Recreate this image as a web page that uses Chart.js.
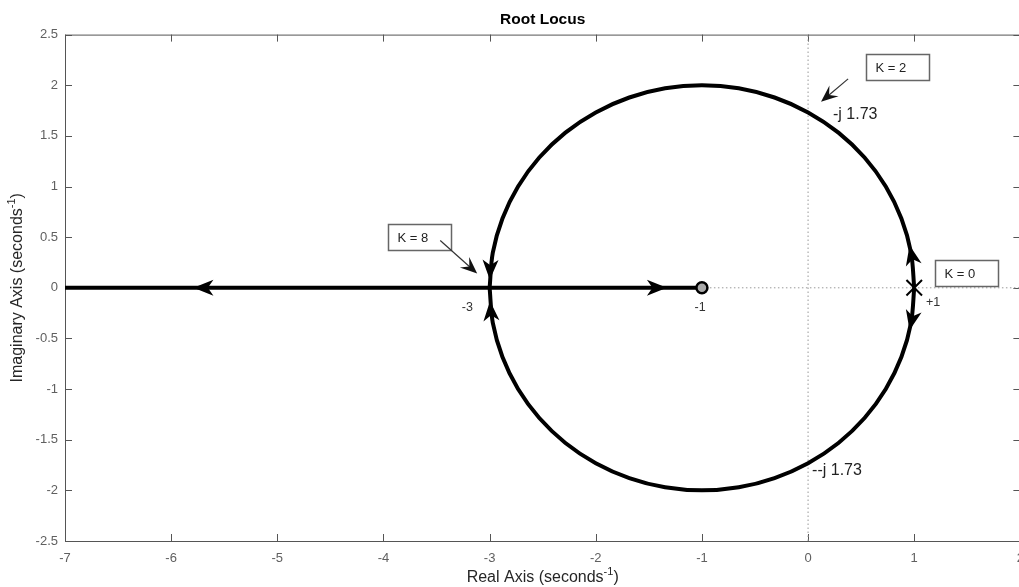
<!DOCTYPE html>
<html>
<head>
<meta charset="utf-8">
<title>Root Locus</title>
<script src="https://cdn.jsdelivr.net/npm/chart.js@4.4.1/dist/chart.umd.min.js"></script>
<style>
  html, body { margin: 0; padding: 0; background: #fff; overflow: hidden; }
  #wrap { width: 1034px; height: 587px; }
</style>
</head>
<body>
<div id="wrap"><canvas id="rlocus"></canvas></div>
<script>
// locus branches (real part, imaginary part)
const upperRe = [1.000, 0.970, 0.879, 0.732, 0.532, 0.286, 0.000, -0.316, -0.653, -1.000, -1.347, -1.684, -2.000, -2.286, -2.532, -2.732, -2.879, -2.970, -3.000];
const upperIm = [0.000, 0.347, 0.684, 1.000, 1.286, 1.532, 1.732, 1.879, 1.970, 2.000, 1.970, 1.879, 1.732, 1.532, 1.286, 1.000, 0.684, 0.347, 0.000];
const lowerRe = [1.000, 0.970, 0.879, 0.732, 0.532, 0.286, 0.000, -0.316, -0.653, -1.000, -1.347, -1.684, -2.000, -2.286, -2.532, -2.732, -2.879, -2.970, -3.000];
const lowerIm = [0.000, -0.347, -0.684, -1.000, -1.286, -1.532, -1.732, -1.879, -1.970, -2.000, -1.970, -1.879, -1.732, -1.532, -1.286, -1.000, -0.684, -0.347, 0.000];
const realRe = [-7, -1];
const realIm = [0, 0];

// pole and zero
const poleRe = [1];
const poleIm = [0];
const zeroRe = [-1];
const zeroIm = [0];

// dotted axis lines
const vertRe = [0, 0];
const vertIm = [-2.5, 2.5];
const horizRe = [-1, 2];
const horizIm = [0, 0];

const xTicks = [-7, -6, -5, -4, -3, -2, -1, 0, 1, 2];
const xTickLabels = ['-7', '-6', '-5', '-4', '-3', '-2', '-1', '0', '1', '2'];
const yTicks = [-2.5, -2, -1.5, -1, -0.5, 0, 0.5, 1, 1.5, 2, 2.5];
const yTickLabels = ['-2.5', '-2', '-1.5', '-1', '-0.5', '0', '0.5', '1', '1.5', '2', '2.5'];

// arrowheads along the locus: tip position and heading in degrees
const arrowRe = [-5.79, -1.33, -2.998, -2.996, 0.956, 0.956];
const arrowIm = [0, 0, 0.08, -0.13, 0.42, -0.42];
const arrowDeg = [180, 0, 268, 94, 102, 258];

// gain boxes (top-left corner) and their pointers
const gainText = ['K = 2', 'K = 8', 'K = 0'];
const gainRe = [0.546, -3.955, 1.196];
const gainIm = [2.312, 0.625, 0.27];
const ptrFromRe = [0.377, -3.465];
const ptrFromIm = [2.063, 0.467];
const ptrToRe = [0.122, -3.117];
const ptrToIm = [1.836, 0.141];

// plain text notes
const noteText = ['-j 1.73', '--j 1.73', '-3', '-1', '+1'];
const noteRe = [0.235, 0.038, -3.21, -1.017, 1.177];
const noteIm = [1.71, -1.80, -0.195, -0.195, -0.145];

const FONT = 'Liberation Sans, Arial, Helvetica, sans-serif';
Chart.defaults.font.family = FONT;

function pts(xs, ys) {
  return xs.map((v, i) => ({ x: v, y: ys[i] }));
}

function head(ctx, px, py, ang, len, half, notch) {
  ctx.save();
  ctx.translate(px, py);
  ctx.rotate(ang);
  ctx.beginPath();
  ctx.moveTo(0, 0);
  ctx.lineTo(-len, half);
  ctx.lineTo(-len * notch, 0);
  ctx.lineTo(-len, -half);
  ctx.closePath();
  ctx.fill();
  ctx.restore();
}

// draw a label with a "-1" superscript after "seconds"
function supLabel(ctx, main, sup, tail, cx, cy, size) {
  ctx.font = size + 'px ' + FONT;
  const w1 = ctx.measureText(main).width;
  const w3 = ctx.measureText(tail).width;
  ctx.font = (size - 5) + 'px ' + FONT;
  const w2 = ctx.measureText(sup).width;
  let x = cx - (w1 + w2 + w3) / 2;
  ctx.textAlign = 'left';
  ctx.textBaseline = 'middle';
  ctx.font = size + 'px ' + FONT;
  ctx.fillText(main, x, cy);
  x += w1;
  ctx.font = (size - 5) + 'px ' + FONT;
  ctx.fillText(sup, x, cy - size * 0.38);
  x += w2;
  ctx.font = size + 'px ' + FONT;
  ctx.fillText(tail, x, cy);
}

const decor = {
  id: 'decor',
  beforeDatasetsDraw(chart) {
    const { ctx, chartArea: a, scales: { x, y } } = chart;
    ctx.save();
    ctx.strokeStyle = '#555';
    ctx.lineWidth = 1;
    ctx.strokeRect(a.left + 0.5, a.top + 0.5, a.right - a.left, a.bottom - a.top);
    ctx.beginPath();
    x.ticks.forEach(t => {
      const px = Math.round(x.getPixelForValue(t.value)) + 0.5;
      ctx.moveTo(px, a.bottom); ctx.lineTo(px, a.bottom - 7);
      ctx.moveTo(px, a.top); ctx.lineTo(px, a.top + 7);
    });
    y.ticks.forEach(t => {
      const py = Math.round(y.getPixelForValue(t.value)) + 0.5;
      ctx.moveTo(a.left, py); ctx.lineTo(a.left + 7, py);
      ctx.moveTo(a.right, py); ctx.lineTo(a.right - 7, py);
    });
    ctx.stroke();
    ctx.restore();
  },
  afterDatasetsDraw(chart) {
    const { ctx, scales: { x, y } } = chart;
    ctx.save();
    // locus arrowheads
    ctx.fillStyle = '#000';
    arrowRe.forEach((re, i) => {
      const d = arrowDeg[i] * Math.PI / 180;
      const ang = Math.atan2(-Math.sin(d), Math.cos(d));
      head(ctx, x.getPixelForValue(re), y.getPixelForValue(arrowIm[i]), ang, 20, 8, 0.72);
    });
    // gain boxes
    gainText.forEach((txt, i) => {
      const bx = Math.round(x.getPixelForValue(gainRe[i])) + 0.5;
      const by = Math.round(y.getPixelForValue(gainIm[i])) + 0.5;
      ctx.fillStyle = '#fff';
      ctx.fillRect(bx, by, 63, 26);
      ctx.strokeStyle = '#666';
      ctx.lineWidth = 1.5;
      ctx.strokeRect(bx, by, 63, 26);
      ctx.fillStyle = '#222';
      ctx.font = '13px ' + FONT;
      ctx.textAlign = 'left';
      ctx.textBaseline = 'middle';
      ctx.fillText(txt, bx + 9, by + 13.5);
    });
    // pointers to the locus, drawn over the boxes
    ctx.strokeStyle = '#333';
    ctx.fillStyle = '#111';
    ctx.lineWidth = 1.2;
    ptrFromRe.forEach((re, i) => {
      const x0 = x.getPixelForValue(re), y0 = y.getPixelForValue(ptrFromIm[i]);
      const x1 = x.getPixelForValue(ptrToRe[i]), y1 = y.getPixelForValue(ptrToIm[i]);
      const ang = Math.atan2(y1 - y0, x1 - x0);
      ctx.beginPath();
      ctx.moveTo(x0, y0);
      ctx.lineTo(x1 - 9 * Math.cos(ang), y1 - 9 * Math.sin(ang));
      ctx.stroke();
      head(ctx, x1, y1, ang, 17, 7, 0.62);
    });
    // notes
    noteText.forEach((txt, i) => {
      const big = i < 2;
      ctx.fillStyle = big ? '#222' : '#333';
      ctx.font = (big ? 16 : 12.5) + 'px ' + FONT;
      ctx.textAlign = big ? 'left' : 'center';
      ctx.textBaseline = 'middle';
      ctx.fillText(txt, x.getPixelForValue(noteRe[i]), y.getPixelForValue(noteIm[i]));
    });
    ctx.restore();
  },
  afterDraw(chart) {
    const { ctx, chartArea: a } = chart;
    ctx.save();
    ctx.fillStyle = '#262626';
    supLabel(ctx, 'Real Axis (seconds', '-1', ')', (a.left + a.right) / 2, 578, 16);
    ctx.translate(18, (a.top + a.bottom) / 2);
    ctx.rotate(-Math.PI / 2);
    supLabel(ctx, 'Imaginary Axis (seconds', '-1', ')', 0, 0, 16);
    ctx.restore();
  }
};

const lineBase = { showLine: true, pointRadius: 0, borderColor: '#000', borderWidth: 4, fill: false };

new Chart(document.getElementById('rlocus'), {
  type: 'scatter',
  data: {
    datasets: [
      { label: 'zero', data: pts(zeroRe, zeroIm), pointStyle: 'circle', pointRadius: 5.5,
        borderColor: '#000', borderWidth: 2.5, backgroundColor: '#aaa' },
      { label: 'pole', data: pts(poleRe, poleIm), pointStyle: 'crossRot', pointRadius: 11,
        borderColor: '#000', borderWidth: 2 },
      Object.assign({ label: 'upper branch', data: pts(upperRe, upperIm), tension: 0.33 }, lineBase),
      Object.assign({ label: 'lower branch', data: pts(lowerRe, lowerIm), tension: 0.33 }, lineBase),
      Object.assign({ label: 'real axis branch', data: pts(realRe, realIm) }, lineBase),
      { label: 'imag axis', data: pts(vertRe, vertIm), showLine: true, pointRadius: 0,
        borderColor: '#999', borderWidth: 1, borderDash: [1.5, 2.5] },
      { label: 'real axis', data: pts(horizRe, horizIm), showLine: true, pointRadius: 0,
        borderColor: '#999', borderWidth: 1, borderDash: [1.5, 2.5] }
    ]
  },
  options: {
    responsive: true,
    maintainAspectRatio: false,
    animation: false,
    layout: { padding: { left: 0, right: 10, top: 0, bottom: 0 } },
    plugins: {
      legend: { display: false },
      tooltip: { enabled: false },
      title: {
        display: true,
        text: 'Root Locus',
        fullSize: false,
        color: '#000',
        font: { size: 15.5, weight: 'bold' },
        padding: { top: 10, bottom: 6 }
      }
    },
    scales: {
      x: {
        type: 'linear',
        min: -7,
        max: 2,
        afterBuildTicks: s => { s.ticks = xTicks.map(v => ({ value: v })); },
        afterFit: s => { s.height = 46; },
        grid: { display: false, drawTicks: false },
        border: { display: false },
        ticks: {
          color: '#606060', font: { size: 13 }, padding: 10, maxRotation: 0,
          callback: v => xTickLabels[xTicks.indexOf(v)]
        }
      },
      y: {
        type: 'linear',
        min: -2.5,
        max: 2.5,
        afterBuildTicks: s => { s.ticks = yTicks.map(v => ({ value: v })); },
        afterFit: s => { s.width = 65; },
        grid: { display: false, drawTicks: false },
        border: { display: false },
        ticks: {
          color: '#606060', font: { size: 13 }, padding: 7,
          callback: v => yTickLabels[yTicks.indexOf(v)]
        }
      }
    }
  },
  plugins: [decor]
});
</script>
</body>
</html>
